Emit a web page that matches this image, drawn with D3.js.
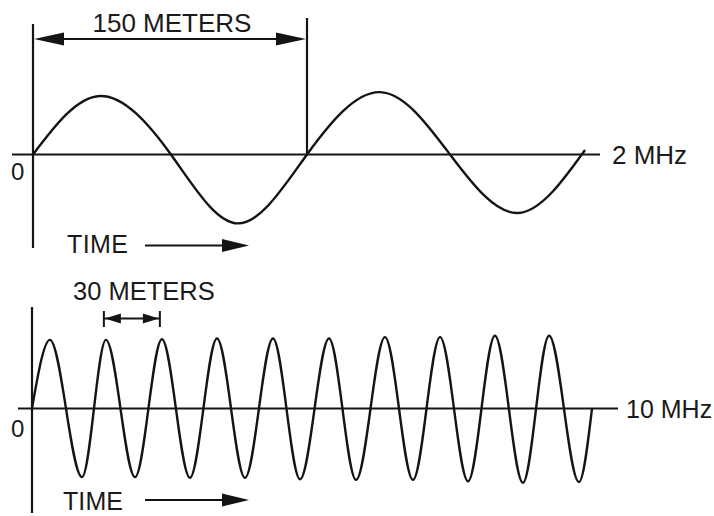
<!DOCTYPE html>
<html>
<head>
<meta charset="utf-8">
<script src="https://cdn.jsdelivr.net/npm/d3@7"></script>
<style>
  html, body { margin: 0; padding: 0; background: #fff; }
  svg { display: block; }
  text { font-family: "Liberation Sans", Arial, Helvetica, sans-serif; fill: #1a1a1a; }
</style>
</head>
<body>
<script>
// ---------- data (time in metres of travel, amplitude relative) ----------
const topTime = [0, 36.7, 75.5, 112.2, 150, 190, 228.3, 265.5, 302.2];
const topAmp  = [0, 0.90, 0, -1.06, 0, 0.96, 0, -0.90, 0.07];

const botTime = [0, 9.6, 26.8, 39.6, 55.2, 69.6, 84.6, 99.1, 114.1, 129.1, 143.6,
                 159.1, 173.6, 189.1, 204.1, 218.6, 233.6, 248.0, 263.0, 277.0, 293.0, 300];
const botAmp  = [0, 0.98, -0.98, 0.98, -0.98, 0.99, -0.99, 1.00, -0.99, 1.00, -1.01,
                 1.00, -1.02, 1.02, -1.02, 1.02, -1.04, 1.04, -1.06, 1.04, -1.05, 0];

const topLabels = { span: "150 METERS", freq: "2 MHz", origin: "0", axis: "TIME" };
const botLabels = { span: "30 METERS", freq: "10 MHz", origin: "0", axis: "TIME" };
const topSpan = [0, 150];
const botSpan = [38.5, 68.5];

// ---------- drawing ----------
const W = 714, H = 516;
const ink = "#141414";
const svg = d3.select("body").append("svg").attr("width", W).attr("height", H);
svg.append("rect").attr("width", W).attr("height", H).attr("fill", "#fff");

function arrowHead(g, xTip, y, dir, len, half) {
  g.append("path")
    .attr("d", `M${xTip},${y} L${xTip - dir * len},${y - half} L${xTip - dir * len},${y + half} Z`)
    .attr("fill", ink);
}

function panel(cfg) {
  const g = svg.append("g");
  const x = d3.scaleLinear().domain(cfg.xDomain).range(cfg.xRange);
  const y = d3.scaleLinear().domain([-1, 1]).range([cfg.base + cfg.ampPx, cfg.base - cfg.ampPx]);
  const y0 = y(0);

  g.append("line").attr("x1", cfg.baseStart).attr("x2", cfg.baseEnd)
    .attr("y1", y0).attr("y2", y0).attr("stroke", ink).attr("stroke-width", 2);
  g.append("line").attr("x1", x(0)).attr("x2", x(0))
    .attr("y1", cfg.axisTop).attr("y2", cfg.axisBottom)
    .attr("stroke", ink).attr("stroke-width", 2.2);

  const pts = cfg.time.map((t, i) => [t, cfg.amp[i]]);
  g.append("path").datum(pts)
    .attr("d", d3.line().x(d => x(d[0])).y(d => y(d[1])).curve(cfg.curve))
    .attr("fill", "none").attr("stroke", ink).attr("stroke-width", 2.4)
    .attr("stroke-linejoin", "round");

  g.append("text").attr("x", cfg.zeroX).attr("y", cfg.zeroY)
    .attr("font-size", 24).text(cfg.labels.origin);
  g.append("text").attr("x", cfg.freqX).attr("y", y0 + 9)
    .attr("font-size", cfg.freqSize).text(cfg.labels.freq);
  g.append("text").attr("x", cfg.timeX).attr("y", cfg.timeY)
    .attr("font-size", 25).attr("textLength", cfg.timeW).text(cfg.labels.axis);
  g.append("line").attr("x1", 145).attr("x2", 230)
    .attr("y1", cfg.timeArrowY).attr("y2", cfg.timeArrowY)
    .attr("stroke", ink).attr("stroke-width", 2);
  arrowHead(g, 249, cfg.timeArrowY, 1, 27, 6.5);

  return { g, x, y };
}

// ---- upper panel (2 MHz) ----
const upper = panel({
  xDomain: [0, 150], xRange: [33, 307], base: 154.5, ampPx: 65,
  baseStart: 12, baseEnd: 600, axisTop: 24, axisBottom: 248,
  time: topTime, amp: topAmp, curve: d3.curveNatural, labels: topLabels,
  zeroX: 11, zeroY: 180, freqX: 612, freqSize: 26,
  timeX: 67, timeY: 253, timeW: 61, timeArrowY: 245.5
});
{
  const { g, x, y } = upper;
  const xa = x(topSpan[0]), xb = x(topSpan[1]);
  g.append("line").attr("x1", xb).attr("x2", xb).attr("y1", 18).attr("y2", y(0))
    .attr("stroke", ink).attr("stroke-width", 2.2);
  const ay = 39;
  g.append("line").attr("x1", xa + 20).attr("x2", xb - 20).attr("y1", ay).attr("y2", ay)
    .attr("stroke", ink).attr("stroke-width", 2);
  arrowHead(g, xa + 1, ay, -1, 30, 6.5);
  arrowHead(g, xb - 1, ay, 1, 30, 6.5);
  g.append("text").attr("x", (xa + xb) / 2 + 2).attr("y", 32).attr("text-anchor", "middle")
    .attr("font-size", 26).text(topLabels.span);
}

// ---- lower panel (10 MHz) ----
const lower = panel({
  xDomain: [0, 300], xRange: [32, 592], base: 408.5, ampPx: 70,
  baseStart: 18, baseEnd: 618, axisTop: 307, axisBottom: 513,
  time: botTime, amp: botAmp, curve: d3.curveMonotoneX, labels: botLabels,
  zeroX: 11, zeroY: 437, freqX: 626, freqSize: 25,
  timeX: 63, timeY: 510, timeW: 60, timeArrowY: 500
});
{
  const { g, x } = lower;
  const xa = x(botSpan[0]), xb = x(botSpan[1]);
  const ay = 318.5;
  [xa, xb].forEach(xx => g.append("line").attr("x1", xx).attr("x2", xx)
    .attr("y1", 311).attr("y2", 327).attr("stroke", ink).attr("stroke-width", 2));
  g.append("line").attr("x1", xa).attr("x2", xb).attr("y1", ay).attr("y2", ay)
    .attr("stroke", ink).attr("stroke-width", 1.8);
  arrowHead(g, xa + 1, ay, -1, 16, 5);
  arrowHead(g, xb - 1, ay, 1, 16, 5);
  g.append("text").attr("x", 73).attr("y", 300)
    .attr("font-size", 25.5).text(botLabels.span);
}
</script>
</body>
</html>
